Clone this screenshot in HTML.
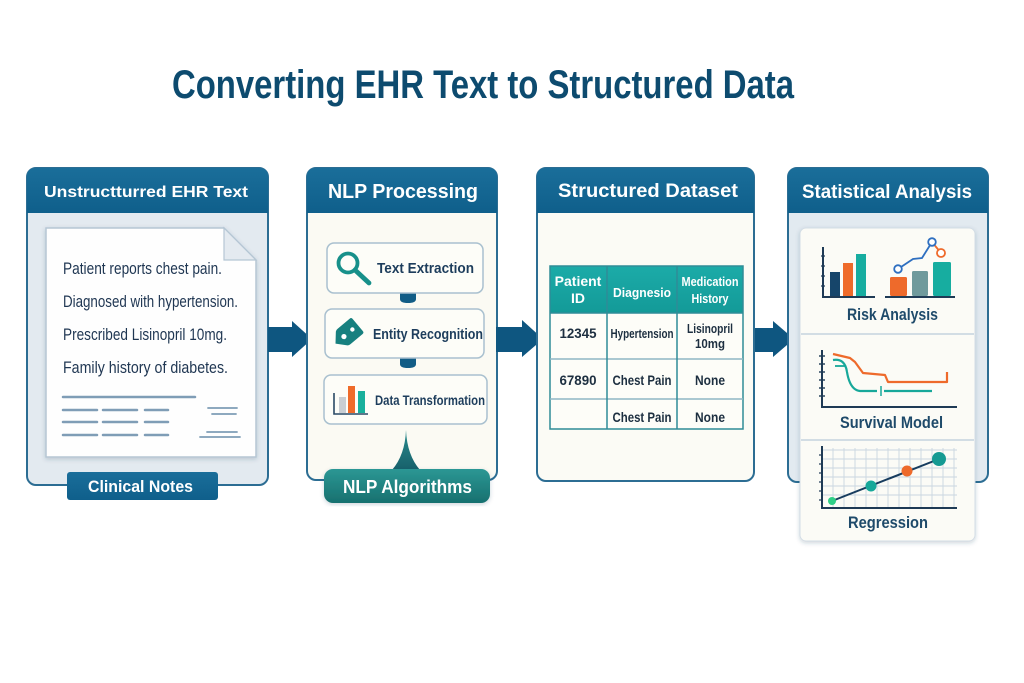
<!DOCTYPE html>
<html>
<head>
<meta charset="utf-8">
<style>
html,body{margin:0;padding:0;background:#ffffff;}
svg{display:block;}
text{font-family:"Liberation Sans", "DejaVu Sans", sans-serif;}
</style>
</head>
<body>
<svg width="1024" height="683" viewBox="0 0 1024 683" xmlns="http://www.w3.org/2000/svg">
<defs>
  <linearGradient id="hdr" x1="0" y1="0" x2="0" y2="1">
    <stop offset="0" stop-color="#1a6e9a"/>
    <stop offset="1" stop-color="#0f5f8b"/>
  </linearGradient>
  <linearGradient id="teal" x1="0" y1="0" x2="0" y2="1">
    <stop offset="0" stop-color="#2c9794"/>
    <stop offset="1" stop-color="#17706f"/>
  </linearGradient>
  <linearGradient id="thead" x1="0" y1="0" x2="0" y2="1">
    <stop offset="0" stop-color="#1cabA8"/>
    <stop offset="1" stop-color="#139a98"/>
  </linearGradient>
  <linearGradient id="spike" x1="0" y1="0" x2="0" y2="1">
    <stop offset="0" stop-color="#2a8c8e"/>
    <stop offset="1" stop-color="#17606a"/>
  </linearGradient>
  <filter id="sh" x="-10%" y="-10%" width="120%" height="120%">
    <feDropShadow dx="0" dy="1.5" stdDeviation="2" flood-color="#24445e" flood-opacity="0.22"/>
  </filter>
</defs>

<rect width="1024" height="683" fill="#ffffff"/>

<!-- Title -->
<text x="172" y="98" font-size="40" font-weight="bold" fill="#0d4b6f" textLength="622" lengthAdjust="spacingAndGlyphs">Converting EHR Text to Structured Data</text>

<!-- Panel 1 -->
<rect x="27" y="168" width="241" height="317" rx="9" fill="#e3eaf0" stroke="#2c6d93" stroke-width="2"/>
<path d="M27,213 V177 Q27,168 36,168 H259 Q268,168 268,177 V213 Z" fill="url(#hdr)"/>
<text x="44" y="197" font-size="16" font-weight="bold" fill="#ffffff" textLength="204" lengthAdjust="spacingAndGlyphs">Unstructturred EHR Text</text>

<path d="M46,228 H224 L256,260 V457 H46 Z" fill="#fefefe" stroke="#b5c6d4" stroke-width="1.5" filter="url(#sh)"/>
<path d="M224,228 V260 H256 Z" fill="#e4eaf0" stroke="#b5c6d4" stroke-width="1.2"/>
<g font-size="17" fill="#1f3652">
  <text x="63" y="274" textLength="159" lengthAdjust="spacingAndGlyphs">Patient reports chest pain.</text>
  <text x="63" y="307" textLength="175" lengthAdjust="spacingAndGlyphs">Diagnosed with hypertension.</text>
  <text x="63" y="340" textLength="164" lengthAdjust="spacingAndGlyphs">Prescribed Lisinopril 10mg.</text>
  <text x="63" y="373" textLength="165" lengthAdjust="spacingAndGlyphs">Family history of diabetes.</text>
</g>
<g stroke="#7f9db6" stroke-width="2.5" stroke-linecap="round">
  <line x1="63" y1="397" x2="195" y2="397"/>
  <line x1="63" y1="410" x2="97" y2="410"/>
  <line x1="103" y1="410" x2="137" y2="410"/>
  <line x1="145" y1="410" x2="168" y2="410"/>
  <line x1="63" y1="422" x2="97" y2="422"/>
  <line x1="103" y1="422" x2="137" y2="422"/>
  <line x1="145" y1="422" x2="168" y2="422"/>
  <line x1="63" y1="435" x2="97" y2="435"/>
  <line x1="103" y1="435" x2="137" y2="435"/>
  <line x1="145" y1="435" x2="168" y2="435"/>
  <line x1="208" y1="408" x2="237" y2="408" stroke-width="1.8"/>
  <line x1="212" y1="414" x2="236" y2="414" stroke-width="1.8"/>
  <line x1="207" y1="432" x2="237" y2="432" stroke-width="1.8"/>
  <line x1="200" y1="437" x2="240" y2="437" stroke-width="1.8"/>
</g>
<rect x="67" y="472" width="151" height="28" rx="3" fill="url(#hdr)"/>
<text x="88" y="492" font-size="17" font-weight="bold" fill="#ffffff" textLength="105" lengthAdjust="spacingAndGlyphs">Clinical Notes</text>

<!-- Arrow 1 -->
<polygon points="268,327 292,327 292,321 312,339 292,357 292,352 268,352" fill="#0e5680"/>

<!-- Panel 2 -->
<rect x="307" y="168" width="190" height="312" rx="9" fill="#fbfaf3" stroke="#2c6d93" stroke-width="2"/>
<path d="M307,213 V177 Q307,168 316,168 H488 Q497,168 497,177 V213 Z" fill="url(#hdr)"/>
<text x="328" y="198" font-size="20" font-weight="bold" fill="#ffffff" textLength="150" lengthAdjust="spacingAndGlyphs">NLP Processing</text>

<!-- connectors -->
<path d="M400,292 H416 V299 Q416,303 408,303 Q400,303 400,299 Z" fill="#125d86"/>
<path d="M400,357 H416 V364 Q416,368 408,368 Q400,368 400,364 Z" fill="#125d86"/>

<rect x="327" y="243" width="156" height="50" rx="7" fill="#fdfdf8" stroke="#a9c0cf" stroke-width="1.5"/>
<circle cx="348" cy="263" r="9.5" fill="none" stroke="#17908a" stroke-width="3.8"/>
<line x1="355" y1="270" x2="369" y2="283" stroke="#17908a" stroke-width="4.8" stroke-linecap="round"/>
<text x="377" y="273" font-size="15" font-weight="bold" fill="#1d3d5c" textLength="97" lengthAdjust="spacingAndGlyphs">Text Extraction</text>

<rect x="325" y="309" width="159" height="49" rx="7" fill="#fdfdf8" stroke="#a9c0cf" stroke-width="1.5"/>
<g transform="translate(347,334) rotate(-40)">
  <path d="M-15,0 L-7,-9 Q-6,-10 -4,-10 H12 Q14,-10 14,-8 V8 Q14,10 12,10 H-4 Q-6,10 -7,9 Z" fill="#17807f"/>
  <circle cx="-4" cy="0" r="2.6" fill="#ffffff"/>
  <circle cx="7" cy="0" r="2.2" fill="#ffffff"/>
</g>
<text x="373" y="339" font-size="15" font-weight="bold" fill="#1d3d5c" textLength="110" lengthAdjust="spacingAndGlyphs">Entity Recognition</text>

<rect x="324" y="375" width="163" height="49" rx="7" fill="#fdfdf8" stroke="#a9c0cf" stroke-width="1.5"/>
<path d="M334,393 V414 H368" fill="none" stroke="#2a4a66" stroke-width="1.6"/>
<rect x="339" y="397" width="7" height="16" fill="#c9ced3"/>
<rect x="348" y="386" width="7" height="27" fill="#ef6b2a"/>
<rect x="358" y="391" width="7" height="22" fill="#19b09c"/>
<text x="375" y="405" font-size="14" font-weight="bold" fill="#1d3d5c" textLength="110" lengthAdjust="spacingAndGlyphs">Data Transformation</text>

<path d="M406,430 Q405,455 392,470 H420 Q407,455 406,430 Z" fill="url(#spike)"/>
<rect x="324" y="469" width="166" height="34" rx="9" fill="url(#teal)" filter="url(#sh)"/>
<text x="343" y="493" font-size="18" font-weight="bold" fill="#ffffff" textLength="129" lengthAdjust="spacingAndGlyphs">NLP Algorithms</text>

<!-- Arrow 2 -->
<polygon points="496,327 522,327 522,320 543,339 522,357 522,352 496,352" fill="#0e5680"/>

<!-- Panel 3 -->
<rect x="537" y="168" width="217" height="313" rx="9" fill="#fbfbf5" stroke="#2c6d93" stroke-width="2"/>
<path d="M537,213 V177 Q537,168 546,168 H745 Q754,168 754,177 V213 Z" fill="url(#hdr)"/>
<text x="558" y="197" font-size="19" font-weight="bold" fill="#ffffff" textLength="180" lengthAdjust="spacingAndGlyphs">Structured Dataset</text>

<rect x="550" y="266" width="193" height="163" fill="#fdfdf8"/>
<rect x="550" y="266" width="193" height="47" fill="url(#thead)"/>
<g stroke="#2f8c97" stroke-width="1.5" fill="none">
  <rect x="550" y="266" width="193" height="163"/>
  <line x1="550" y1="313" x2="743" y2="313"/>
  <line x1="550" y1="359" x2="743" y2="359" stroke="#8fb6c4"/>
  <line x1="550" y1="399" x2="743" y2="399" stroke="#8fb6c4"/>
  <line x1="607" y1="266" x2="607" y2="429"/>
  <line x1="677" y1="266" x2="677" y2="429"/>
</g>
<g font-weight="bold" fill="#ffffff" text-anchor="middle">
  <text x="578" y="286" font-size="14">Patient</text>
  <text x="578" y="303" font-size="14">ID</text>
  <text x="642" y="297" font-size="13" textLength="58" lengthAdjust="spacingAndGlyphs">Diagnesio</text>
  <text x="710" y="286" font-size="13" textLength="57" lengthAdjust="spacingAndGlyphs">Medication</text>
  <text x="710" y="303" font-size="13" textLength="37" lengthAdjust="spacingAndGlyphs">History</text>
</g>
<g font-weight="bold" fill="#1d2f40" text-anchor="middle" font-size="14">
  <text x="578" y="338" textLength="37" lengthAdjust="spacingAndGlyphs">12345</text>
  <text x="642" y="338" font-size="13" textLength="63" lengthAdjust="spacingAndGlyphs">Hypertension</text>
  <text x="710" y="333" font-size="13" textLength="46" lengthAdjust="spacingAndGlyphs">Lisinopril</text>
  <text x="710" y="348" font-size="13" textLength="30" lengthAdjust="spacingAndGlyphs">10mg</text>
  <text x="578" y="385" textLength="37" lengthAdjust="spacingAndGlyphs">67890</text>
  <text x="642" y="385" textLength="59" lengthAdjust="spacingAndGlyphs">Chest Pain</text>
  <text x="710" y="385" textLength="30" lengthAdjust="spacingAndGlyphs">None</text>
  <text x="642" y="422" textLength="59" lengthAdjust="spacingAndGlyphs">Chest Pain</text>
  <text x="710" y="422" textLength="30" lengthAdjust="spacingAndGlyphs">None</text>
</g>

<!-- Arrow 3 -->
<polygon points="755,328 773,328 773,321 794,339 773,357 773,352 755,352" fill="#0e5680"/>

<!-- Panel 4 -->
<rect x="788" y="168" width="200" height="314" rx="9" fill="#e2eaf0" stroke="#2c6d93" stroke-width="2"/>
<path d="M788,213 V177 Q788,168 797,168 H979 Q988,168 988,177 V213 Z" fill="url(#hdr)"/>
<text x="802" y="198" font-size="19" font-weight="bold" fill="#ffffff" textLength="170" lengthAdjust="spacingAndGlyphs">Statistical Analysis</text>

<rect x="800" y="228" width="175" height="313" rx="6" fill="#fbfbf6" stroke="#d3dde5" stroke-width="1" filter="url(#sh)"/>
<line x1="801" y1="334" x2="974" y2="334" stroke="#c5d3dd" stroke-width="1.5"/>
<line x1="801" y1="440" x2="974" y2="440" stroke="#c5d3dd" stroke-width="1.5"/>

<!-- Risk chart left -->
<path d="M823,247 V297 H875" fill="none" stroke="#1e3a55" stroke-width="2"/>
<g stroke="#1e3a55" stroke-width="1.2">
  <line x1="821" y1="256" x2="825" y2="256"/><line x1="821" y1="266" x2="825" y2="266"/>
  <line x1="821" y1="276" x2="825" y2="276"/><line x1="821" y1="286" x2="825" y2="286"/>
</g>
<rect x="830" y="272" width="10" height="24" fill="#16456a"/>
<rect x="843" y="263" width="10" height="33" fill="#ef6b2a"/>
<rect x="856" y="254" width="10" height="42" fill="#17ada0"/>
<!-- Risk chart right -->
<line x1="885" y1="297" x2="955" y2="297" stroke="#1e3a55" stroke-width="2"/>
<rect x="890" y="277" width="17" height="19" rx="1.5" fill="#ee6a2b"/>
<rect x="912" y="271" width="16" height="25" rx="1.5" fill="#6f9a9c"/>
<rect x="933" y="262" width="18" height="34" rx="1.5" fill="#17ada0"/>
<polyline points="898,269 913,259 922,258 932,242" fill="none" stroke="#2e6fc0" stroke-width="1.8"/>
<line x1="932" y1="242" x2="941" y2="253" stroke="#ee6a2b" stroke-width="1.8"/>
<circle cx="898" cy="269" r="3.8" fill="#ffffff" stroke="#2e6fc0" stroke-width="1.8"/>
<circle cx="932" cy="242" r="3.8" fill="#ffffff" stroke="#2e6fc0" stroke-width="1.8"/>
<circle cx="941" cy="253" r="4" fill="#ffffff" stroke="#ee6a2b" stroke-width="1.8"/>
<text x="847" y="320" font-size="17" font-weight="bold" fill="#1e4a6a" textLength="91" lengthAdjust="spacingAndGlyphs">Risk Analysis</text>

<!-- Survival chart -->
<path d="M822,350 V407 H957" fill="none" stroke="#1e3a55" stroke-width="2"/>
<g stroke="#1e3a55" stroke-width="1.4">
  <line x1="819" y1="356" x2="825" y2="356"/><line x1="819" y1="364" x2="825" y2="364"/>
  <line x1="819" y1="372" x2="825" y2="372"/><line x1="819" y1="380" x2="825" y2="380"/>
  <line x1="819" y1="388" x2="825" y2="388"/><line x1="819" y1="396" x2="825" y2="396"/>
</g>
<polyline points="833,354 850,358 855,362 863,373 885,375 888,382 947,382 947,372" fill="none" stroke="#ee6a2b" stroke-width="2.2" stroke-linejoin="round"/>
<path d="M833,360 Q845,358 847,372 Q850,390 860,391 H877" fill="none" stroke="#17a89a" stroke-width="2.2"/>
<line x1="835" y1="366" x2="846" y2="366" stroke="#17a89a" stroke-width="1.8"/>
<line x1="881" y1="386" x2="881" y2="396" stroke="#17a89a" stroke-width="1.5"/>
<line x1="884" y1="391" x2="932" y2="391" stroke="#17a89a" stroke-width="2.2"/>
<text x="840" y="428" font-size="17" font-weight="bold" fill="#1e4a6a" textLength="103" lengthAdjust="spacingAndGlyphs">Survival Model</text>

<!-- Regression chart -->
<g stroke="#c9d6e0" stroke-width="0.9">
  <line x1="833" y1="448" x2="833" y2="508"/><line x1="844" y1="448" x2="844" y2="508"/>
  <line x1="855" y1="448" x2="855" y2="508"/><line x1="866" y1="448" x2="866" y2="508"/>
  <line x1="877" y1="448" x2="877" y2="508"/><line x1="888" y1="448" x2="888" y2="508"/>
  <line x1="899" y1="448" x2="899" y2="508"/><line x1="910" y1="448" x2="910" y2="508"/>
  <line x1="921" y1="448" x2="921" y2="508"/><line x1="932" y1="448" x2="932" y2="508"/>
  <line x1="943" y1="448" x2="943" y2="508"/><line x1="954" y1="448" x2="954" y2="508"/>
  <line x1="822" y1="450" x2="957" y2="450"/><line x1="822" y1="459" x2="957" y2="459"/>
  <line x1="822" y1="468" x2="957" y2="468"/><line x1="822" y1="477" x2="957" y2="477"/>
  <line x1="822" y1="486" x2="957" y2="486"/><line x1="822" y1="495" x2="957" y2="495"/>
</g>
<path d="M822,446 V508 H957" fill="none" stroke="#1e3a55" stroke-width="2"/>
<g stroke="#1e3a55" stroke-width="1.2">
  <line x1="819" y1="455" x2="823" y2="455"/><line x1="819" y1="464" x2="823" y2="464"/>
  <line x1="819" y1="473" x2="823" y2="473"/><line x1="819" y1="482" x2="823" y2="482"/>
  <line x1="819" y1="491" x2="823" y2="491"/><line x1="819" y1="500" x2="823" y2="500"/>
</g>
<line x1="832" y1="501" x2="939" y2="459" stroke="#173c5e" stroke-width="2"/>
<circle cx="832" cy="501" r="4" fill="#2fcf86"/>
<circle cx="871" cy="486" r="5.5" fill="#17a89a"/>
<circle cx="907" cy="471" r="5.5" fill="#ee6a2b"/>
<circle cx="939" cy="459" r="7" fill="#159a92"/>
<text x="848" y="528" font-size="17" font-weight="bold" fill="#1e4a6a" textLength="80" lengthAdjust="spacingAndGlyphs">Regression</text>

</svg>
</body>
</html>
